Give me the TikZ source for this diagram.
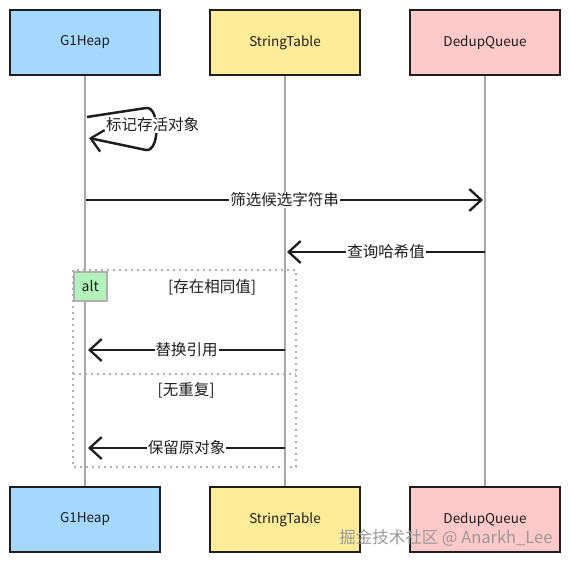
\documentclass[tikz,border=0pt]{standalone}
\usepackage{fontspec}
\setmainfont{Noto Sans CJK SC}
\usetikzlibrary{arrows.meta}
\definecolor{heapblue}{HTML}{A5D8FF}
\definecolor{tableyellow}{HTML}{FFEC99}
\definecolor{queuepink}{HTML}{FFC9C9}
\definecolor{altgreen}{HTML}{B2F2BB}
\definecolor{lifegrey}{HTML}{A8A8A8}
\definecolor{framegrey}{HTML}{B0B0B0}
\definecolor{inkblack}{HTML}{1E1E1E}
\begin{document}
\begin{tikzpicture}[x=1pt,y=-1pt,
  actor/.style={draw=inkblack, line width=1.8pt, minimum width=150pt, minimum height=65pt,
    inner sep=0pt, font=\fontsize{13.5}{15}\selectfont, text=inkblack},
  lifeline/.style={draw=lifegrey, line width=1.2pt},
  msg/.style={draw=inkblack, line width=2.5pt, -{Straight Barb[length=12pt,width=22pt,line width=2.3pt]}},
  msglabel/.style={fill=white, inner sep=1pt, font=\fontsize{15.5}{17}\selectfont, text=inkblack},
  frameline/.style={draw=framegrey, line width=1.6pt, dash pattern=on 2pt off 4pt},
  guard/.style={font=\fontsize{15.5}{17}\selectfont, text=inkblack}
]
\useasboundingbox (0,0) rectangle (570,562);

% participants
\node[actor, fill=heapblue] (heapT) at (85,42.5) {G1Heap};
\node[actor, fill=tableyellow] (tableT) at (285,42.5) {StringTable};
\node[actor, fill=queuepink] (queueT) at (485,42.5) {DedupQueue};
\node[actor, fill=heapblue] (heapB) at (85,519.5) {G1Heap};
\node[actor, fill=tableyellow] (tableB) at (285,519.5) {StringTable};
\node[actor, fill=queuepink] (queueB) at (485,519.5) {DedupQueue};

% lifelines
\draw[lifeline] (heapT.south) -- (heapB.north);
\draw[lifeline] (tableT.south) -- (tableB.north);
\draw[lifeline] (queueT.south) -- (queueB.north);

% message anchor points on lifelines
\coordinate (h1) at (87,117);
\coordinate (h1e) at (89,138);
\coordinate (h2) at (86,200);
\coordinate (q2) at (483,200);
\coordinate (q3) at (485,252);
\coordinate (t3) at (287,252);
\coordinate (t4) at (285,350);
\coordinate (h4) at (88,350);
\coordinate (t5) at (285,448);
\coordinate (h5) at (88,448);

% self message
\draw[msg] (h1) -- (146,108) .. controls (160,106) and (160,152) .. (146,150) -- (h1e);
\node[msglabel, anchor=west] (m1) at (105,125) {标记存活对象};

% alt frame
\draw[frameline] (73,270) rectangle (296,467);
\node[draw=framegrey, line width=1.5pt, fill=altgreen, minimum width=33pt, minimum height=29pt,
  inner sep=0pt, anchor=north west, font=\fontsize{14}{16}\selectfont, text=inkblack] (altbox) at (73,271) {alt};
\node[guard] (g1) at (212,287) {[存在相同值]};
\coordinate (sepL) at (73,374);
\coordinate (sepR) at (296,374);
\draw[frameline] (sepL) -- (sepR);
\node[guard] (g2) at (186,390) {[无重复]};

% messages
\draw[msg] (h2) -- node[msglabel] (m2) {筛选候选字符串} (q2);
\draw[msg] (q3) -- node[msglabel, pos=0.5] (m3) {查询哈希值} (t3);
\draw[msg] (t4) -- node[msglabel] (m4) {替换引用} (h4);
\draw[msg] (t5) -- node[msglabel] (m5) {保留原对象} (h5);

% watermark
\node[text=black!40, font=\fontsize{16.5}{18}\selectfont, anchor=east] (wm) at (556,538) {掘金技术社区 @ Anarkh\_Lee};
\end{tikzpicture}
\end{document}
